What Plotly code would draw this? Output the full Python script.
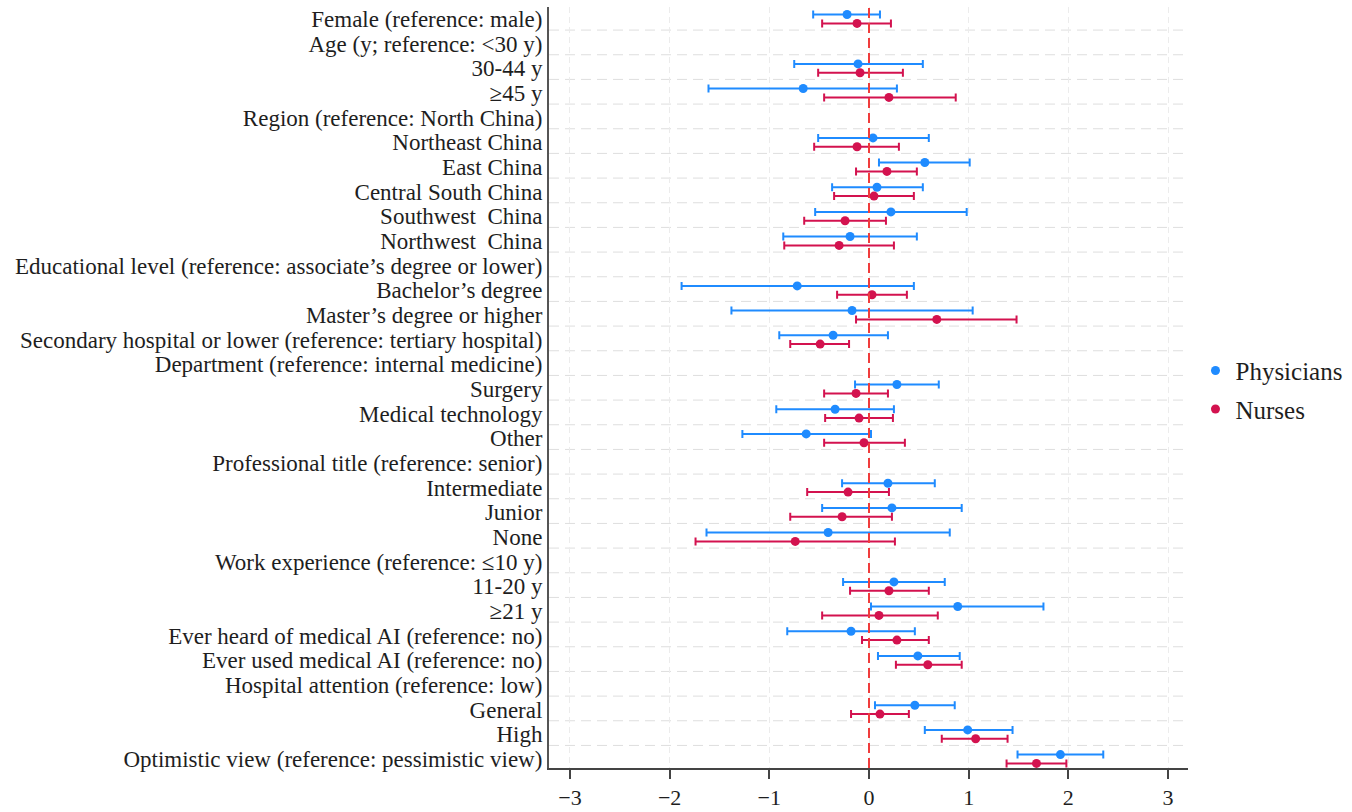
import plotly.graph_objects as go

# Row labels, top to bottom
labels = [
    "Female (reference: male)",
    "Age (y; reference: <30 y)",
    "30-44 y",
    "≥45 y",
    "Region (reference: North China)",
    "Northeast China",
    "East China",
    "Central South China",
    "Southwest\u00a0 China",
    "Northwest\u00a0 China",
    "Educational level (reference: associate’s degree or lower)",
    "Bachelor’s degree",
    "Master’s degree or higher",
    "Secondary hospital or lower (reference: tertiary hospital)",
    "Department (reference: internal medicine)",
    "Surgery",
    "Medical technology",
    "Other",
    "Professional title (reference: senior)",
    "Intermediate",
    "Junior",
    "None",
    "Work experience (reference: ≤10 y)",
    "11-20 y",
    "≥21 y",
    "Ever heard of medical AI (reference: no)",
    "Ever used medical AI (reference: no)",
    "Hospital attention (reference: low)",
    "General",
    "High",
    "Optimistic view (reference: pessimistic view)",
]

# Coefficients with 95% CI (None for header rows)
phys_est = [-0.22, None, -0.11, -0.66, None, 0.04, 0.56, 0.08, 0.22, -0.19, None, -0.72, -0.17, -0.36, None,
            0.28, -0.34, -0.63, None, 0.19, 0.23, -0.41, None, 0.25, 0.89, -0.18, 0.49, None, 0.46, 0.99, 1.92]
phys_lo = [-0.56, None, -0.75, -1.61, None, -0.51, 0.10, -0.37, -0.54, -0.86, None, -1.88, -1.38, -0.90, None,
           -0.14, -0.93, -1.27, None, -0.27, -0.47, -1.63, None, -0.26, 0.02, -0.82, 0.09, None, 0.06, 0.56, 1.49]
phys_hi = [0.11, None, 0.54, 0.28, None, 0.60, 1.01, 0.54, 0.98, 0.48, None, 0.45, 1.04, 0.19, None,
           0.70, 0.25, 0.02, None, 0.66, 0.93, 0.81, None, 0.76, 1.75, 0.46, 0.91, None, 0.86, 1.44, 2.35]

nurse_est = [-0.12, None, -0.09, 0.20, None, -0.12, 0.18, 0.05, -0.24, -0.30, None, 0.03, 0.68, -0.49, None,
             -0.13, -0.10, -0.05, None, -0.21, -0.27, -0.74, None, 0.20, 0.10, 0.28, 0.59, None, 0.11, 1.07, 1.68]
nurse_lo = [-0.47, None, -0.51, -0.45, None, -0.55, -0.13, -0.35, -0.65, -0.85, None, -0.32, -0.13, -0.79, None,
            -0.45, -0.44, -0.45, None, -0.62, -0.79, -1.74, None, -0.19, -0.47, -0.07, 0.27, None, -0.18, 0.73, 1.38]
nurse_hi = [0.22, None, 0.34, 0.87, None, 0.30, 0.48, 0.45, 0.17, 0.25, None, 0.38, 1.48, -0.20, None,
            0.19, 0.24, 0.36, None, 0.20, 0.23, 0.26, None, 0.60, 0.69, 0.60, 0.93, None, 0.40, 1.39, 1.98]

x_ticks = [-3, -2, -1, 0, 1, 2, 3]

BLUE = "#1f8bff"
RED = "#d3124f"
FONT = "Liberation Serif, Times New Roman, serif"
TEXT = "#1e1e1e"

n = len(labels)
rows = [n - i for i in range(n)]  # top row has the largest y
OFFSET = 0.18


def series(est, lo, hi, shift):
    ys, xs, plus, minus = [], [], [], []
    for r, e, l, h in zip(rows, est, lo, hi):
        if e is None:
            continue
        ys.append(r + shift)
        xs.append(e)
        plus.append(h - e)
        minus.append(e - l)
    return xs, ys, plus, minus


fig = go.Figure()
for name, est, lo, hi, shift, color in [
    ("Physicians", phys_est, phys_lo, phys_hi, OFFSET, BLUE),
    ("Nurses", nurse_est, nurse_lo, nurse_hi, -OFFSET, RED),
]:
    xs, ys, plus, minus = series(est, lo, hi, shift)
    fig.add_trace(go.Scatter(
        x=xs, y=ys, mode="markers", name=name, legendgroup=name,
        marker=dict(color=color, size=9),
        error_x=dict(type="data", symmetric=False, array=plus, arrayminus=minus,
                     color=color, thickness=2, width=4),
    ))

# Dashed horizontal guides between rows
for r in rows[:-1]:
    fig.add_shape(type="line", xref="paper", x0=0, x1=1, yref="y", y0=r - 1 + 0.55, y1=r - 1 + 0.55,
                  line=dict(color="#dedede", width=1, dash="10px,6px"), layer="below")

# Reference line at zero
fig.add_shape(type="line", xref="x", x0=0, x1=0, yref="paper", y0=0, y1=1,
              line=dict(color="#f03c3c", width=2, dash="10px,5px"), layer="above")

fig.update_layout(
    width=1352, height=812,
    margin=dict(l=549, r=164, t=7, b=44, autoexpand=False),
    paper_bgcolor="white", plot_bgcolor="white",
    font=dict(family=FONT, size=23, color=TEXT),
    showlegend=True,
    legend=dict(x=1.0117, xanchor="left", y=0.497, yanchor="middle",
                font=dict(family=FONT, size=25, color=TEXT),
                traceorder="grouped", tracegroupgap=3, bgcolor="rgba(0,0,0,0)"),
    xaxis=dict(range=[-3.21, 3.2], tickvals=x_ticks, ticks="outside", ticklen=9, tickwidth=2,
               tickcolor="#444444", showline=True, linecolor="#444444", linewidth=2,
               showgrid=True, gridcolor="#ececec", gridwidth=1, griddash="6px,4px",
               zeroline=False, tickfont=dict(family=FONT, size=22, color=TEXT)),
    yaxis=dict(range=[0.635, 31.486], tickvals=rows, ticktext=labels, ticks="",
               showline=True, linecolor="#555555", linewidth=2, showgrid=False, zeroline=False,
               tickfont=dict(family=FONT, size=23, color=TEXT)),
)

fig.write_html("out.html")
